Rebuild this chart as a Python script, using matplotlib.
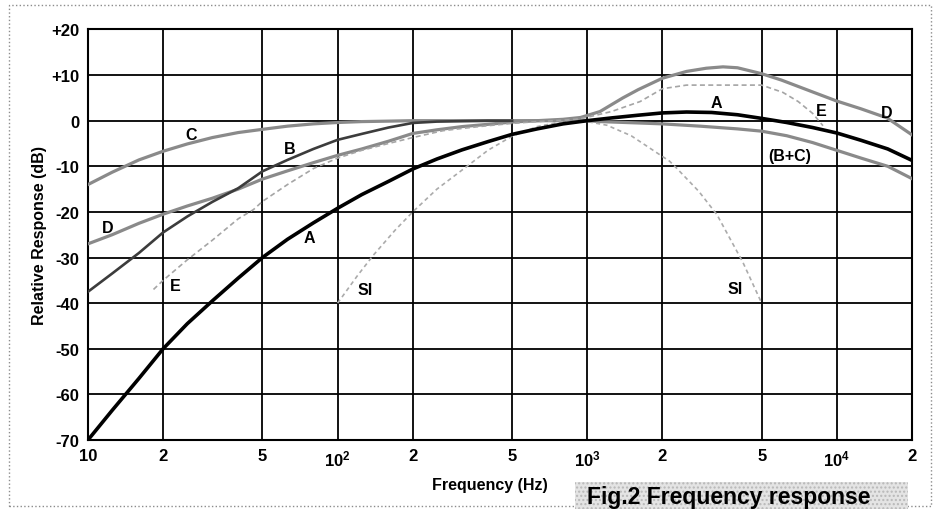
import matplotlib
matplotlib.use('Agg')
import matplotlib.pyplot as plt
from matplotlib.patches import Rectangle
from matplotlib.ticker import NullLocator

# Weighting curves (frequency in Hz, response in dB)
freq_A = [10, 12.5, 16, 20, 25, 31.5, 40, 50, 63, 80, 100, 125, 160, 200, 250, 315, 400, 500,
          630, 800, 1000, 1250, 1600, 2000, 2500, 3150, 4000, 5000, 6300, 8000, 10000, 12500, 16000, 20000]
resp_A = [-70, -63.5, -56.5, -50, -44.5, -39.5, -34.5, -30, -26, -22.4, -19.2, -16.2, -13.3, -10.6, -8.4, -6.4, -4.6, -3.0,
          -1.8, -0.7, 0, 0.6, 1.2, 1.7, 1.9, 1.8, 1.3, 0.5, -0.4, -1.5, -2.7, -4.3, -6.2, -8.7]

freq_B = [10, 12.5, 16, 20, 25, 31.5, 40, 50, 63, 80, 100, 125, 160, 200, 250, 315, 400, 500]
resp_B = [-37.5, -33.5, -29, -24.5, -21, -17.8, -14.8, -11.1, -8.6, -6.2, -4.2, -2.9, -1.5, -0.5, -0.2, -0.1, 0, 0]

freq_C = [10, 12.5, 16, 20, 25, 31.5, 40, 50, 63, 80, 100, 125, 160, 200, 300, 500, 1000, 1125,
          1600, 2000, 2830, 4000, 5000, 6300, 8000, 10000, 12500, 16000, 20000]
resp_C = [-14, -11.3, -8.6, -6.7, -5.1, -3.7, -2.6, -1.9, -1.2, -0.7, -0.4, -0.2, -0.1, 0, 0, 0, 0, -0.2,
          -0.5, -0.7, -1.2, -1.8, -2.3, -3.3, -4.8, -6.5, -8.2, -10.0, -12.7]

freq_D = [10, 12.5, 16, 20, 25, 31.5, 40, 50, 63, 80, 100, 125, 160, 200, 250, 315, 400, 500, 630, 800,
          940, 1125, 1390, 1600, 2000, 2500, 3000, 3500, 4000, 5000, 6000, 8000, 10000, 12500, 15900, 20000]
resp_D = [-27, -25, -22.5, -20.5, -18.7, -17, -15, -12.8, -11, -9.2, -7.6, -6.2, -4.5, -2.8, -2.0, -1.3, -0.8, -0.3, 0, 0.3,
          0.7, 2.0, 5.0, 6.8, 9.3, 10.8, 11.5, 11.8, 11.6, 10.3, 8.9, 6.3, 4.3, 2.6, 0.6, -3.1]

freq_E = [18.3, 20, 25, 31.5, 40, 46, 50, 63, 80, 100, 125, 160, 200, 264, 315, 400, 500, 630, 800,
          940, 1250, 1630, 2000, 2500, 3150, 4000, 5000, 6080, 7000, 8000, 8800]
resp_E = [-37, -35, -30.5, -26.2, -21.5, -19.5, -17.7, -14, -10.5, -8.2, -6.5, -5, -3.7, -2.2, -1.7, -1.1, -0.6, -0.2, 0.1,
          0.4, 2.0, 4.2, 7.0, 7.8, 7.8, 7.8, 7.8, 6.2, 4.2, 1.6, -1.1]

freq_SI = [100, 120, 139, 170, 200, 250, 330, 400, 500, 630, 800, 1000, 1200, 1500, 2140, 2290, 2800, 3310, 4200, 5000]
resp_SI = [-40, -34, -29.5, -24, -20, -15, -10, -6.5, -3.4, -1.3, -0.2, -0.2, -1, -3.3, -8.9, -10.5, -15.5, -20.6, -31, -40]

# Curve labels: (text, frequency, dB)
curve_labels = [
    ('C', 26, -3), ('B', 64, -6.2), ('D', 12, -23.4), ('E', 22.4, -36.2), ('A', 77, -25.5),
    ('SI', 129, -37), ('SI', 3900, -36.7), ('A', 3300, 3.9), ('E', 8700, 2.2), ('D', 15900, 1.8),
    ('(B+C)', 6460, -7.7),
]

x_ticks = [10, 20, 50, 100, 200, 500, 1000, 2000, 5000, 10000, 20000]
x_tick_labels = ['10', '2', '5', r'$\mathbf{10^2}$', '2', '5', r'$\mathbf{10^3}$', '2', '5', r'$\mathbf{10^4}$', '2']
y_ticks = [20, 10, 0, -10, -20, -30, -40, -50, -60, -70]
y_tick_labels = ['+20', '+10', '0', '-10', '-20', '-30', '-40', '-50', '-60', '-70']

plt.rcParams['font.family'] = ['Liberation Sans', 'DejaVu Sans']
plt.rcParams['font.weight'] = 'bold'
plt.rcParams['mathtext.fontset'] = 'custom'
plt.rcParams['mathtext.rm'] = 'Liberation Sans:bold'
plt.rcParams['mathtext.bf'] = 'Liberation Sans:bold'

fig = plt.figure(figsize=(9.34, 5.10), dpi=100)
ax = fig.add_axes([0.0942, 0.1353, 0.8822, 0.805])

ax.set_xscale('log')
ax.set_xlim(10, 20000)
ax.set_ylim(-70, 20)
ax.set_xticks(x_ticks)
ax.set_xticklabels(x_tick_labels)
ax.xaxis.set_minor_locator(NullLocator())
ax.set_yticks(y_ticks)
ax.set_yticklabels(y_tick_labels)
ax.tick_params(length=0, labelsize=12, pad=6)
ax.grid(True, color='black', linewidth=1.3)
ax.set_axisbelow(True)
for s in ax.spines.values():
    s.set_linewidth(1.5)

# curves
ax.plot(freq_C, resp_C, color='#8a8a8a', lw=2.3, zorder=3)
ax.plot(freq_D, resp_D, color='#8a8a8a', lw=2.3, zorder=3)
ax.plot(freq_B, resp_B, color='#3c3c3c', lw=1.9, zorder=4)
ax.plot(freq_E, resp_E, color='#a5a5a5', lw=1.2, dashes=(3, 2), zorder=3)
ax.plot(freq_SI, resp_SI, color='#ababab', lw=1.2, dashes=(2.5, 2), zorder=3)
ax.plot(freq_A, resp_A, color='black', lw=2.6, zorder=5)

for txt, f, db in curve_labels:
    ax.text(f, db, txt, ha='center', va='center', fontsize=11.5, fontweight='bold', zorder=6)

ax.set_xlabel('Frequency (Hz)', fontsize=11.5, fontweight='bold')
ax.xaxis.set_label_coords(0.488, -0.09)
ax.set_ylabel('Relative Response (dB)', fontsize=11.5, fontweight='bold')
ax.yaxis.set_label_coords(-0.05, 0.5)

# dotted page frame and caption box
fig.patches.append(Rectangle((9 / 934, 3 / 510), 922 / 934, 501 / 510, transform=fig.transFigure,
                             fill=False, ls=':', lw=1.0, edgecolor='#8c8c8c'))
fig.patches.append(Rectangle((575 / 934, 0), 333 / 934, 27 / 510, transform=fig.transFigure,
                             facecolor='#e4e4e4', hatch='....', edgecolor='#b8b8b8', lw=0))
fig.text(587 / 934, 1 - 504 / 510, 'Fig.2 Frequency response', fontsize=16.5, fontweight='bold',
         va='baseline', ha='left')

fig.savefig('out.png', dpi=100)
